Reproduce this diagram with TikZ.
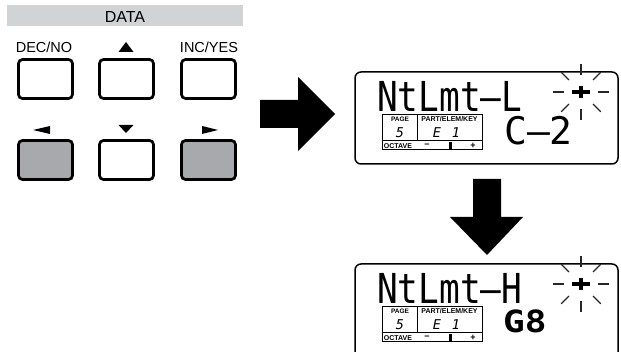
\documentclass[tikz,border=0pt]{standalone}
\usepackage{fontspec}
\setmainfont{Liberation Sans}
\newfontfamily\lcdfont{DejaVu Sans Mono}
\usepackage{graphicx}
\definecolor{barGray}{HTML}{D1D3D4}
\definecolor{keyGray}{HTML}{A7A9AC}
\tikzset{
  btn/.style={draw, line width=2.7pt, rounded corners=4pt, minimum width=54pt, minimum height=39pt, inner sep=0pt, fill=white},
  btngray/.style={btn, fill=keyGray},
  keylabel/.style={font=\fontsize{14.5}{14.5}\selectfont, inner sep=0pt},
  tri/.style={fill=black},
  lcdbox/.style={draw, line width=1.5pt, rounded corners=6pt},
  tinylbl/.style={font=\bfseries\fontsize{7}{7}\selectfont, inner sep=0pt, text height=5pt, text depth=0pt, anchor=base},
  segtxt/.style={font=\lcdfont\itshape\fontsize{13.5}{13.5}\selectfont, inner sep=0pt, text height=10pt, text depth=0pt, anchor=base},
  bigtxt/.style={font=\lcdfont\fontsize{34.4}{34.4}\selectfont, inner sep=0pt, anchor=base west, text depth=0pt},
  ray/.style={line width=1.1pt, black!85},
  blockarrow/.style={fill=black}
}
\begin{document}
\begin{tikzpicture}[x=1pt,y=-1pt]
\useasboundingbox (0,0) rectangle (621,352);
\begin{scope}
\clip (0,0) rectangle (621,352);
% DATA header
\fill[barGray] (7,5) rectangle (243,26);
\node[font=\fontsize{16}{16}\selectfont, inner sep=0pt] (data) at (125,17.5) {DATA};
% key labels
\node[keylabel] (decno) at (44,47) {DEC/NO};
\node[keylabel] (incyes) at (209,47) {INC/YES};
\fill[tri] (118.5,52) -- (133.5,52) -- (126,42) -- cycle;
\fill[tri] (33,130) -- (50,126) -- (50,134) -- cycle;
\fill[tri] (118.5,125) -- (133.5,125) -- (126,133) -- cycle;
\fill[tri] (218,130) -- (202,126) -- (202,134) -- cycle;
% buttons
\node[btn] (b1) at (45.5,79) {};
\node[btn] (b2) at (126.5,79) {};
\node[btn] (b3) at (208.5,79) {};
\node[btngray] (b4) at (45.5,160) {};
\node[btn] (b5) at (126.5,160) {};
\node[btngray] (b6) at (208.5,160) {};
% block arrows
\fill[blockarrow] (260,100) -- (298,100) -- (298,77) -- (335,114) -- (298,151) -- (298,128) -- (260,128) -- cycle;
\fill[blockarrow] (473,179) -- (501,179) -- (501,217) -- (523,217) -- (487,255) -- (450,217) -- (473,217) -- cycle;
% LCD screens
\foreach \i/\dy/\txt in {1/0/NtLmt–L, 2/192/NtLmt–H}{
  \begin{scope}[shift={(0,\dy)}]
    \ifnum\i=1
      \draw[lcdbox] (355,72) rectangle (618,164);
    \else
      \draw[lcdbox] (355,380) -- (355,72) -- (618,72) -- (618,380);
    \fi
    \node[bigtxt] (title\i) at (377,112) {\scalebox{1}[1.2]{\txt}};
    % small info box
    \draw[line width=1pt] (382,115) rectangle (482,150);
    \draw[line width=1pt] (382,141) -- (482,141);
    \draw[line width=1pt] (417,115) -- (417,141);
    \node[tinylbl, font=\bfseries\fontsize{6.5}{6.5}\selectfont] (page\i) at (400,122) {PAGE};
    \node[tinylbl] (pek\i) at (449.5,122) {PART/ELEM/KEY};
    \node[segtxt] (pnum\i) at (400,137.5) {5};
    \node[segtxt] (elem\i) at (437,137.5) {E};
    \node[segtxt] (one\i) at (456,137.5) {1};
    \node[tinylbl] (oct\i) at (398,148.3) {OCTAVE};
    \node[font=\bfseries\fontsize{9}{9}\selectfont, inner sep=0pt] (minus\i) at (427,145.5) {−};
    \node[font=\bfseries\fontsize{9}{9}\selectfont, inner sep=0pt] (plus\i) at (473,145.5) {+};
    \fill (448.5,142.5) rectangle (451.5,149);
    % flashing cursor
    \coordinate (cur\i) at (581,92);
    \foreach \a in {0,45,...,315}{
      \draw[ray] (cur\i) ++(\a:17) -- ++(\a:11);
    }
    \draw[line width=4pt] (572,92) -- (590,92);
    \draw[line width=4.5pt] (581,86) -- (581,98);
  \end{scope}
}
\node[bigtxt, font=\lcdfont\fontsize{38}{38}\selectfont] (val1) at (504,145) {C–2};
\node[bigtxt, font=\lcdfont\bfseries\fontsize{36}{36}\selectfont] (val2) at (503,333) {\scalebox{1}[0.85]{G8}};
\end{scope}
\end{tikzpicture}
\end{document}
